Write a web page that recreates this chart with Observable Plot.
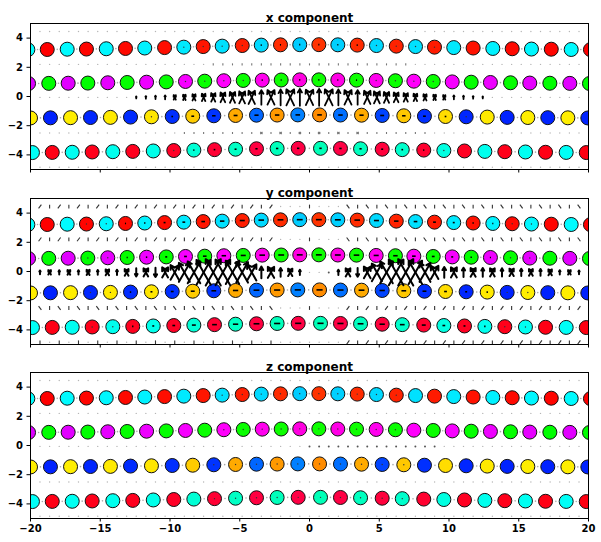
<!DOCTYPE html>
<html>
<head>
<meta charset="utf-8">
<script src="https://cdn.jsdelivr.net/npm/d3@7"></script>
<script src="https://cdn.jsdelivr.net/npm/@observablehq/plot@0.6"></script>
<style>
  html, body { margin: 0; padding: 0; background: #fff; }
  #chart svg { display: block; }
</style>
</head>
<body>
<div id="chart"></div>
<script>
// ---------- data ----------
const panelTitles = ["x component", "y component", "z component"];
const xTicks = [-20, -15, -10, -5, 0, 5, 10, 15, 20];
const yTicks = [-4, -2, 0, 2, 4];

// circle rows (same lattice in the three panels); hue in degrees (hsv colormap)
const row1X = [-20.19,-18.80,-17.37,-15.99,-14.57,-13.19,-11.81,-10.39,-9.01,-7.62,-6.26,-4.82,-3.46,-2.08,-0.70,0.67,2.03,3.42,4.80,6.22,7.60,8.96,10.34,11.73,13.14,14.53,15.91,17.33,18.76,20.14];
const row1Y = [3.21,3.22,3.24,3.25,3.27,3.29,3.32,3.35,3.38,3.42,3.45,3.49,3.52,3.54,3.55,3.55,3.54,3.52,3.49,3.45,3.42,3.38,3.35,3.32,3.29,3.27,3.25,3.24,3.22,3.21];
const row1Hue = [180,0,181,1,182,2,183,3,185,5,187,7,189,10,192,12,191,10,189,8,187,6,185,4,183,2,182,1,181,0];

const row2X = [-20.14,-18.69,-17.30,-15.89,-14.46,-13.07,-11.68,-10.27,-8.89,-7.51,-6.14,-4.75,-3.39,-2.03,-0.70,0.67,2.03,3.37,4.78,6.16,7.48,8.87,10.23,11.59,12.97,14.41,15.79,17.23,18.66,20.07];
const row2Y = [0.89,0.90,0.91,0.92,0.94,0.96,0.98,1.00,1.03,1.05,1.08,1.10,1.12,1.13,1.14,1.14,1.13,1.12,1.10,1.08,1.05,1.03,1.00,0.98,0.96,0.94,0.92,0.91,0.90,0.89];
const row2Hue = [292,120,293,120,294,119,296,119,298,118,301,118,304,117,307,117,306,117,304,118,301,118,298,119,296,119,294,120,293,120];

const row3X = [-20.0,-18.57,-17.13,-15.70,-14.27,-12.83,-11.33,-9.84,-8.37,-6.86,-5.30,-3.80,-2.32,-0.84,0.72,2.22,3.73,5.21,6.76,8.24,9.75,11.23,12.74,14.17,15.65,17.08,18.52,19.95];
const row3Y = [-1.47,-1.46,-1.45,-1.44,-1.43,-1.41,-1.39,-1.37,-1.35,-1.32,-1.30,-1.28,-1.27,-1.26,-1.26,-1.27,-1.28,-1.30,-1.32,-1.35,-1.37,-1.39,-1.41,-1.43,-1.44,-1.45,-1.46,-1.47];
const row3Hue = [56,232,56,231,55,230,54,229,48,228,40,216,36,210,33,214,40,224,47,229,52,231,55,232,56,232,56,232];

const row4X = [-19.86,-18.44,-17.01,-15.58,-14.10,-12.67,-11.20,-9.73,-8.29,-6.81,-5.30,-3.80,-2.32,-0.81,0.79,2.22,3.66,5.21,6.65,8.19,9.63,11.11,12.57,14.00,15.48,16.92,18.40,19.84];
const row4Y = [-3.84,-3.83,-3.82,-3.80,-3.78,-3.76,-3.73,-3.70,-3.67,-3.64,-3.61,-3.58,-3.56,-3.55,-3.55,-3.56,-3.58,-3.61,-3.64,-3.67,-3.70,-3.73,-3.76,-3.78,-3.80,-3.82,-3.83,-3.84];
const row4Hue = [178,355,177,354,176,353,175,351,170,348,166,345,164,344,163,344,165,346,168,349,173,352,176,354,177,355,178,356];

// horizontal marks drawn inside each circle, per panel and row (length in x units)
const dashX1 = [0,0,0,0,0,0,0,0,0.04,0.05,0.06,0.07,0.08,0.08,0.08,0.08,0.08,0.08,0.07,0.06,0.05,0.04,0,0,0,0,0,0,0,0];
const dashX2 = [0,0,0,0,0,0,0,0,0.04,0.05,0.06,0.07,0.08,0.08,0.08,0.08,0.08,0.08,0.07,0.06,0.05,0.04,0,0,0,0,0,0,0,0];
const dashX3 = [0,0,0,0,0,0,0.04,0.12,0.2,0.25,0.28,0.3,0.32,0.33,0.33,0.32,0.3,0.28,0.25,0.2,0.12,0.04,0,0,0,0,0,0];
const dashX4 = [0,0,0,0,0,0,0,0.04,0.08,0.12,0.14,0.16,0.17,0.17,0.17,0.17,0.16,0.14,0.12,0.08,0.04,0,0,0,0,0,0,0];
const dashY1 = [0,0,0,0.04,0.06,0.08,0.1,0.14,0.2,0.26,0.32,0.36,0.4,0.42,0.42,0.42,0.42,0.4,0.36,0.32,0.26,0.2,0.14,0.1,0.08,0.06,0.04,0,0,0];
const dashY2 = [0,0,0,0.04,0.06,0.08,0.1,0.14,0.2,0.26,0.32,0.36,0.4,0.42,0.42,0.42,0.42,0.4,0.36,0.32,0.26,0.2,0.14,0.1,0.08,0.06,0.04,0,0,0];
const dashY3 = [0,0,0,0.04,0.06,0.1,0.14,0.2,0.28,0.34,0.38,0.42,0.44,0.44,0.44,0.44,0.42,0.38,0.34,0.28,0.2,0.14,0.1,0.06,0.04,0,0,0];
const dashY4 = [0,0,0,0.04,0.06,0.1,0.14,0.2,0.28,0.34,0.38,0.42,0.44,0.44,0.44,0.44,0.42,0.38,0.34,0.28,0.2,0.14,0.1,0.06,0.04,0,0,0];
const dashZ1 = [0,0,0,0,0,0,0,0,0,0,0.03,0.03,0.03,0.03,0.03,0.03,0.03,0.03,0.03,0.03,0,0,0,0,0,0,0,0,0,0];
const dashZ2 = dashZ1;
const dashZ3 = [0,0,0,0,0,0,0,0,0,0.03,0.03,0.03,0.03,0.03,0.03,0.03,0.03,0.03,0.03,0,0,0,0,0,0,0,0,0];
const dashZ4 = dashZ3;

// quiver grid
const gridX = [-19.32,-18.63,-17.94,-17.25,-16.56,-15.87,-15.18,-14.49,-13.80,-13.11,-12.42,-11.73,-11.04,-10.35,-9.66,-8.97,-8.28,-7.59,-6.90,-6.21,-5.52,-4.83,-4.14,-3.45,-2.76,-2.07,-1.38,-0.69,0,0.69,1.38,2.07,2.76,3.45,4.14,4.83,5.52,6.21,6.90,7.59,8.28,8.97,9.66,10.35,11.04,11.73,12.42,13.11,13.80,14.49,15.18,15.87,16.56,17.25,17.94,18.63,19.32];
const gridY = [4.45, 2.2, -0.06, -2.5, -4.85];

// middle quiver row: arrow type per column (| up, v down, X crossed pair, ^ tiny, . speck) and length
const midTypesX = "..........||||XXXXXXXXX|X|X|X|X|X|XXXXXXXXX||||..........";
const midMagsX = [0,0,0,0,0,0,0,0,0,0, 0.14,0.18,0.22,0.26, 0.3,0.36,0.42,0.5,0.58,0.66,0.74,0.82,0.9, 1.0,1.0,1.08,1.1,1.16,1.05,1.16,1.1,1.08,1.0,1.0, 0.9,0.82,0.74,0.66,0.58,0.5,0.42,0.36,0.3, 0.26,0.22,0.18,0.14, 0,0,0,0,0,0,0,0,0,0];
const midTypesY = "|X|X|X|X|XvXvX" + "XXXXXXXXX" + "|X|X|" + "..^" + "|XvX" + "XXXXXX" + "X|X|X|X|X|X|X|X|";
const midMagsY = [0.25,0.3,0.28,0.32,0.3,0.35,0.32,0.4,0.35,0.45,0.55,0.55,0.65,0.7, 1.0,1.3,1.5,1.7,1.8,1.75,1.6,1.4,1.1, 0.8,0.75,0.6,0.5,0.35, 0.1,0.12,0.25, 0.35,0.55,0.6,0.8, 1.2,1.5,1.75,1.8,1.6,1.3, 0.9,0.75,0.7,0.65,0.6,0.6,0.55,0.55,0.5,0.5,0.45,0.45,0.4,0.3,0.3,0.25];
const midTypesZ = "............................" + "^^^^^^^^^^^^^^" + "...............";
const midMagsZ = [];

// other quiver rows (4.45, 2.2, -2.5, -4.85): i vertical tick, s "/" tick, b "\" tick, x crossed tick, . speck
const bgX = ["",
  "......" + "......" + "......" + "iiiiiiiiiiiiiiiiiiiii" + "......" + "......" + "......",
  "..............." + "iiiiiiii" + "xixixixixix" + "iiiiiii" + "................",
  ""];
const bgY = [
  "sisisisisisisisisisisisis" + "...i..." + "bibibibibibibibibibibibib",
  "sisisisisisisisisisisisis" + "...i..." + "bibibibibibibibibibibibib",
  "bibibibibibibibibibibibib" + "...i..." + "sisisisisisisisisisisisis",
  "i.i.i.i.i.i.i.i.i.i.i.i.i" + "......." + "sisisisisisisisisisisisis"];
const bgZ = ["", "", "", ""];

// ---------- build ----------
const hsv = h => d3.hsl(h, 1, 0.5).formatHex();
const rowDefs = [[row1X, row1Y, row1Hue], [row2X, row2Y, row2Hue], [row3X, row3Y, row3Hue], [row4X, row4Y, row4Hue]];
const circles = rowDefs.flatMap(([xs, ys, hs], r) => xs.map((x, i) => ({row: r, i, x, y: ys[i], fill: hsv(hs[i])})));
const between = rowDefs.flatMap(([xs, ys]) => xs.slice(1).map((x, i) => ({x: (x + xs[i]) / 2, y: (ys[i + 1] + ys[i]) / 2})));

const fmt = d => (d < 0 ? "\u2212" + (-d) : String(d));

function quiver(midTypes, midMags, bg, spread, smallLen) {
  const arrows = [], ticks = [], specks = [], dark = [];
  gridY.forEach((gy, r) => {
    gridX.forEach((gx, k) => {
      if (r === 2) {
        const t = midTypes[k] || ".", m = midMags[k] || 0;
        if (t === "|") arrows.push({x1: gx, y1: gy - m / 2, x2: gx, y2: gy + m / 2});
        else if (t === "v") arrows.push({x1: gx, y1: gy + m / 2, x2: gx, y2: gy - m / 2});
        else if (t === "X") {
          arrows.push({x1: gx - spread * m, y1: gy - m / 2, x2: gx + spread * m, y2: gy + m / 2});
          arrows.push({x1: gx + spread * m, y1: gy - m / 2, x2: gx - spread * m, y2: gy + m / 2});
        } else if (t === "^") dark.push({x: gx, y: gy});
        else specks.push({x: gx, y: gy});
      } else {
        const c = bg[r > 2 ? r - 1 : r][k] || ".";
        const L = smallLen;
        if (c === "i") ticks.push({x1: gx, y1: gy - L / 2, x2: gx, y2: gy + L / 2});
        else if (c === "s") ticks.push({x1: gx - 0.1, y1: gy - L / 2, x2: gx + 0.1, y2: gy + L / 2});
        else if (c === "b") ticks.push({x1: gx + 0.1, y1: gy - L / 2, x2: gx - 0.1, y2: gy + L / 2});
        else if (c === "x") {
          ticks.push({x1: gx - 0.08, y1: gy - L / 2, x2: gx + 0.08, y2: gy + L / 2});
          ticks.push({x1: gx + 0.08, y1: gy - L / 2, x2: gx - 0.08, y2: gy + L / 2});
        } else specks.push({x: gx, y: gy});
      }
    });
  });
  return {arrows, ticks, specks, dark};
}

const panels = [
  {title: panelTitles[0], q: quiver(midTypesX, midMagsX, bgX, 0.25, 0.14), tickColor: "#777", dash: [dashX1, dashX2, dashX3, dashX4], arrowWidth: 1.8, height: 175, mt: 23, mb: 6, labels: false},
  {title: panelTitles[1], q: quiver(midTypesY, midMagsY, bgY, 0.3, 0.26), tickColor: "#333", dash: [dashY1, dashY2, dashY3, dashY4], arrowWidth: 2, height: 175, mt: 23, mb: 6, labels: false},
  {title: panelTitles[2], q: quiver(midTypesZ, midMagsZ, bgZ, 0.3, 0.2), tickColor: "#777", dash: [dashZ1, dashZ2, dashZ3, dashZ4], arrowWidth: 1.8, height: 192, mt: 22, mb: 24, labels: true}
];

const chart = document.getElementById("chart");
for (const p of panels) {
  const dashes = circles.map(c => ({x: c.x, y: c.y, d: p.dash[c.row][c.i] || 0}));
  const dashLines = dashes.filter(d => d.d >= 0.08);
  const dashDots = dashes.filter(d => d.d > 0 && d.d < 0.08);
  const svg = Plot.plot({
    width: 601,
    height: p.height,
    marginLeft: 30,
    marginRight: 13,
    marginTop: p.mt,
    marginBottom: p.mb,
    style: {fontFamily: "'DejaVu Sans', sans-serif", fontSize: "10px", fontWeight: "bold", background: "#fff", color: "#000"},
    x: {domain: [-20, 20], ticks: xTicks, tickSize: 3.5, tickPadding: 3, tickFormat: p.labels ? fmt : () => "", label: null},
    y: {domain: [-5, 5], ticks: yTicks, tickSize: 3.5, tickPadding: 4, tickFormat: fmt, label: null},
    marks: [
      Plot.dot(p.q.specks, {x: "x", y: "y", r: 0.7, fill: "#b5b5b5", clip: true}),
      Plot.dot(between, {x: "x", y: "y", r: 0.8, fill: "#a8a8a8", clip: true}),
      Plot.link(p.q.ticks, {x1: "x1", y1: "y1", x2: "x2", y2: "y2", stroke: p.tickColor, strokeWidth: 1.1, clip: true}),
      Plot.dot(circles, {x: "x", y: "y", r: 7, fill: "fill", stroke: "#111", strokeWidth: 1, clip: true}),
      Plot.dot(dashDots, {x: "x", y: "y", r: 0.7, fill: "#333", clip: true}),
      Plot.link(dashLines, {x1: d => d.x - d.d / 2, x2: d => d.x + d.d / 2, y1: "y", y2: "y", stroke: "black", strokeWidth: 1.6, clip: true}),
      Plot.dot(p.q.dark, {x: "x", y: "y", r: 1, fill: "#555", clip: true}),
      Plot.arrow(p.q.arrows, {x1: "x1", y1: "y1", x2: "x2", y2: "y2", stroke: "black", strokeWidth: p.arrowWidth, headLength: 3.5, headAngle: 60, clip: true}),
      Plot.frame({stroke: "black", strokeWidth: 1}),
      Plot.text([p.title], {frameAnchor: "top", dy: -10, fontSize: 12, fontWeight: "bold", fill: "black"})
    ]
  });
  chart.appendChild(svg);
}
</script>
</body>
</html>
